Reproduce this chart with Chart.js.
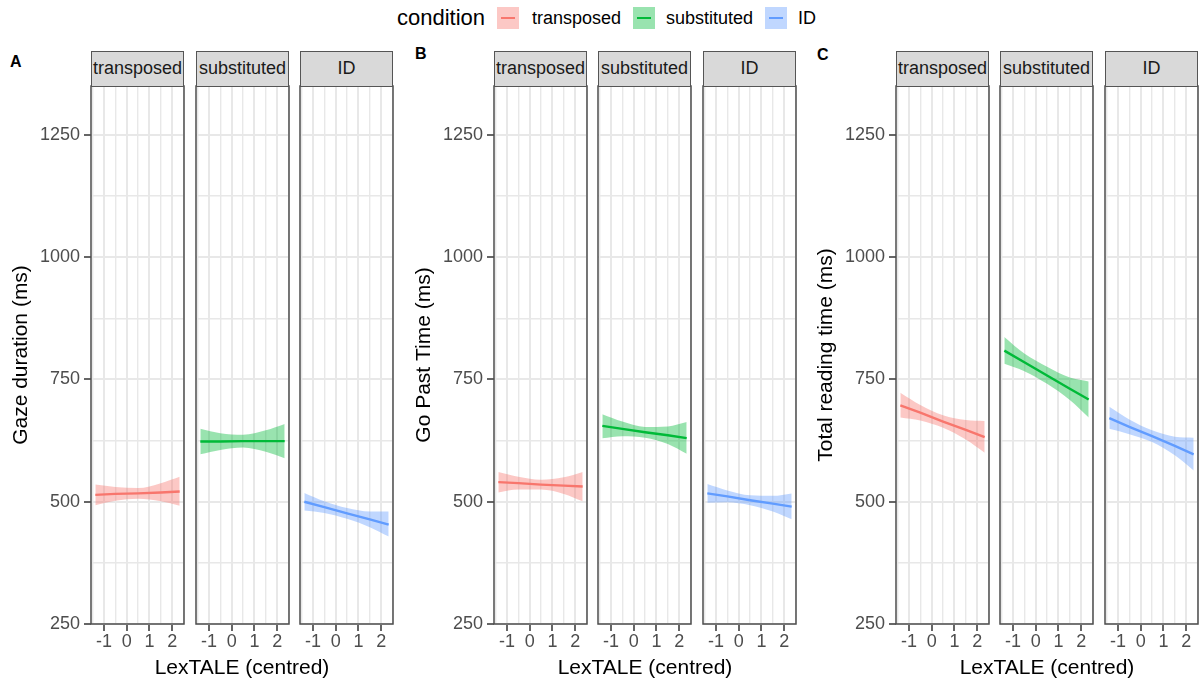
<!DOCTYPE html>
<html>
<head>
<meta charset="utf-8">
<script src="https://cdn.jsdelivr.net/npm/chart.js@4.4.1/dist/chart.umd.min.js"></script>
<style>
  body { margin: 0; background: #fff; font-family: "Liberation Sans", Arial, sans-serif; }
  #wrap { position: relative; width: 1203px; height: 684px; overflow: hidden; }
  #wrap canvas { position: absolute; }
  .strip { position: absolute; top: 51px; width: 93px; height: 36px; box-sizing: border-box;
    background: #d9d9d9; border: 1.5px solid #555; color: #1a1a1a; font-size: 18px;
    text-align: center; line-height: 32px; white-space: nowrap; overflow: visible; }
  .tag { position: absolute; font-weight: bold; font-size: 16px; line-height: 18px; color: #000; }
  .xtitle { position: absolute; top: 654px; width: 300px; font-size: 21px; line-height: 26px; text-align: center; color: #000; }
  .lg { position: absolute; white-space: nowrap; color: #000; }
  .key { position: absolute; top: 7px; width: 22px; height: 22px; }
  .key span { position: absolute; left: 4px; top: 10px; width: 14px; height: 2px; }
</style>
</head>
<body>
<div id="wrap"></div>
<script>
// categories
var conditions = ['transposed', 'substituted', 'ID'];
var measures = ['Gaze duration (ms)', 'Go Past Time (ms)', 'Total reading time (ms)'];
var panelTags = ['A', 'B', 'C'];

// LexTALE (centred) positions where the fit and its band were read
var lexTale = [-1.38, -0.5, 0.5, 1.5, 2.33];

// tick labels
var xTicks = [-1, 0, 1, 2];
var yTicks = [250, 500, 750, 1000, 1250];

// fitted values, lower and upper bound: [transposed, substituted, ID]
var gazeFit = [[514, 516, 517, 519, 521], [623, 623, 624, 624, 624], [500, 489, 476, 464, 453]];
var gazeLow = [[493, 502, 506, 501, 492], [597, 606, 611, 602, 589], [482, 477, 465, 448, 429]];
var gazeUpp = [[535, 530, 528, 538, 551], [649, 640, 637, 646, 659], [518, 501, 487, 480, 480]];

var pastFit = [[540, 538, 535, 533, 531], [655, 649, 642, 636, 630], [517, 511, 503, 496, 490]];
var pastLow = [[519, 525, 525, 516, 501], [630, 634, 631, 618, 598], [498, 499, 493, 480, 464]];
var pastUpp = [[561, 551, 545, 550, 561], [679, 664, 653, 654, 663], [536, 523, 513, 512, 517]];

var totalFit = [[697, 682, 664, 647, 632], [809, 785, 758, 731, 709], [671, 653, 634, 614, 597]];
var totalLow = [[672, 666, 651, 627, 600], [782, 767, 741, 708, 672], [649, 638, 622, 595, 564]];
var totalUpp = [[723, 698, 677, 667, 665], [837, 803, 776, 754, 746], [694, 668, 646, 633, 631]];

var fits = [gazeFit, pastFit, totalFit];
var lows = [gazeLow, pastLow, totalLow];
var upps = [gazeUpp, pastUpp, totalUpp];

var lineColors = ['#F8766D', '#00BA38', '#619CFF'];
var fillColors = ['rgba(248,118,109,0.4)', 'rgba(0,186,56,0.4)', 'rgba(97,156,255,0.4)'];

var FONT = '"Liberation Sans", Arial, sans-serif';
Chart.defaults.font.family = FONT;

// grid = major ticks plus the minor lines half way
var xGrid = [];
xTicks.forEach(function(v) { xGrid.push(v - 0.5, v); });
xGrid.push(xTicks[xTicks.length - 1] + 0.5);
var yGrid = [];
yTicks.forEach(function(v, i) { yGrid.push(v); if (i < yTicks.length - 1) yGrid.push(v + 125); });

var facetLefts = [[91, 196, 300], [494, 598, 703], [896, 1000, 1105]];
var FW = 93, PLOT_TOP = 86, PLOT_H = 538, XAX_H = 40, M = 4;

var panelBorder = {
  id: 'panelBorder',
  afterDraw: function(chart) {
    var a = chart.chartArea, c = chart.ctx;
    c.save();
    c.strokeStyle = '#4d4d4d';
    c.lineWidth = 1.5;
    c.strokeRect(a.left, a.top, a.right - a.left, a.bottom - a.top);
    c.restore();
  }
};

function isMajor(list, v) { return list.indexOf(v) >= 0; }

function pts(arr) {
  return arr.map(function(y, i) { return {x: lexTale[i], y: y}; });
}

var wrap = document.getElementById('wrap');

function addDiv(cls, text, css) {
  var d = document.createElement('div');
  d.className = cls;
  if (text) d.textContent = text;
  for (var k in css) d.style[k] = css[k];
  wrap.appendChild(d);
  return d;
}

for (var p = 0; p < 3; p++) {
  for (var f = 0; f < 3; f++) {
    (function(p, f) {
      var first = f === 0;
      var left = facetLefts[p][f];
      var cv = document.createElement('canvas');
      var w = first ? 91 + FW + M : FW + 2 * M;
      var h = M + PLOT_H + XAX_H;
      cv.width = w; cv.height = h;
      cv.style.left = (first ? left - 91 : left - M) + 'px';
      cv.style.top = (PLOT_TOP - M) + 'px';
      cv.style.width = w + 'px'; cv.style.height = h + 'px';
      wrap.appendChild(cv);

      new Chart(cv, {
        type: 'line',
        data: {
          datasets: [
            { data: pts(fits[p][f]), borderColor: lineColors[f], borderWidth: 2.4, pointRadius: 0, fill: false, tension: 0 },
            { data: pts(upps[p][f]), borderColor: 'rgba(0,0,0,0)', borderWidth: 0, pointRadius: 0,
              backgroundColor: fillColors[f], fill: '+1', cubicInterpolationMode: 'monotone' },
            { data: pts(lows[p][f]), borderColor: 'rgba(0,0,0,0)', borderWidth: 0, pointRadius: 0,
              fill: false, cubicInterpolationMode: 'monotone' }
          ]
        },
        options: {
          responsive: false,
          animation: false,
          events: [],
          layout: { padding: { left: first ? 0 : M, right: M, top: M, bottom: 0 } },
          plugins: { legend: { display: false }, tooltip: { enabled: false }, filler: { drawTime: 'beforeDatasetsDraw' } },
          scales: {
            x: {
              type: 'linear', min: -1.57, max: 2.52,
              afterBuildTicks: function(s) { s.ticks = xGrid.map(function(v) { return {value: v}; }); },
              afterFit: function(s) { s.height = XAX_H; s.paddingLeft = 0; s.paddingRight = 0; s.paddingTop = 0; s.paddingBottom = 0; },
              ticks: {
                autoSkip: false, maxRotation: 0, minRotation: 0, padding: 0, color: '#4d4d4d',
                font: { size: 18 },
                callback: function(v) { return isMajor(xTicks, v) ? String(v) : ''; }
              },
              grid: {
                color: '#e8e8e8',
                lineWidth: function(c) { return c.tick && isMajor(xTicks, c.tick.value) ? 2 : 1.4; },
                tickLength: 7, tickWidth: 1.5,
                tickColor: function(c) { return c.tick && isMajor(xTicks, c.tick.value) ? '#333' : 'rgba(0,0,0,0)'; }
              },
              border: { display: false }
            },
            y: {
              type: 'linear', min: 250, max: 1350,
              afterBuildTicks: function(s) { s.ticks = yGrid.map(function(v) { return {value: v}; }); },
              afterFit: function(s) { s.width = first ? 91 : 0; s.paddingLeft = 0; s.paddingRight = 0; s.paddingTop = 0; s.paddingBottom = 0; },
              ticks: {
                display: first, autoSkip: false, padding: 4, color: '#4d4d4d',
                font: { size: 18 },
                callback: function(v) { return isMajor(yTicks, v) ? String(v) : ''; }
              },
              grid: {
                color: '#e8e8e8',
                lineWidth: function(c) { return c.tick && isMajor(yTicks, c.tick.value) ? 2 : 1.4; },
                drawTicks: first, tickLength: 7, tickWidth: 1.5,
                tickColor: function(c) { return c.tick && isMajor(yTicks, c.tick.value) ? '#333' : 'rgba(0,0,0,0)'; }
              },
              border: { display: false },
              title: {
                display: first, text: measures[p], color: '#000',
                font: { size: 21 }, padding: { top: 9, bottom: 0 }
              }
            }
          }
        },
        plugins: [panelBorder]
      });

      addDiv('strip', conditions[f], { left: left + 'px' });
    })(p, f);
  }
  addDiv('xtitle', 'LexTALE (centred)', { left: (facetLefts[p][0] + (facetLefts[p][2] + FW - facetLefts[p][0]) / 2 - 150) + 'px' });
}

// panel tags
var tagPos = [[10, 53], [415, 45], [817, 46]];
panelTags.forEach(function(t, i) { addDiv('tag', t, { left: tagPos[i][0] + 'px', top: tagPos[i][1] + 'px' }); });

// legend
addDiv('lg', 'condition', { left: '397px', top: '4px', fontSize: '22px', lineHeight: '28px' });
var keyLefts = [497, 633, 765];
var textLefts = [532, 666, 798];
conditions.forEach(function(c, i) {
  var k = addDiv('key', '', { left: keyLefts[i] + 'px', background: fillColors[i] });
  var s = document.createElement('span');
  s.style.background = lineColors[i];
  k.appendChild(s);
  addDiv('lg', c, { left: textLefts[i] + 'px', top: '7px', fontSize: '18px', lineHeight: '22px' });
});
</script>
</body>
</html>
